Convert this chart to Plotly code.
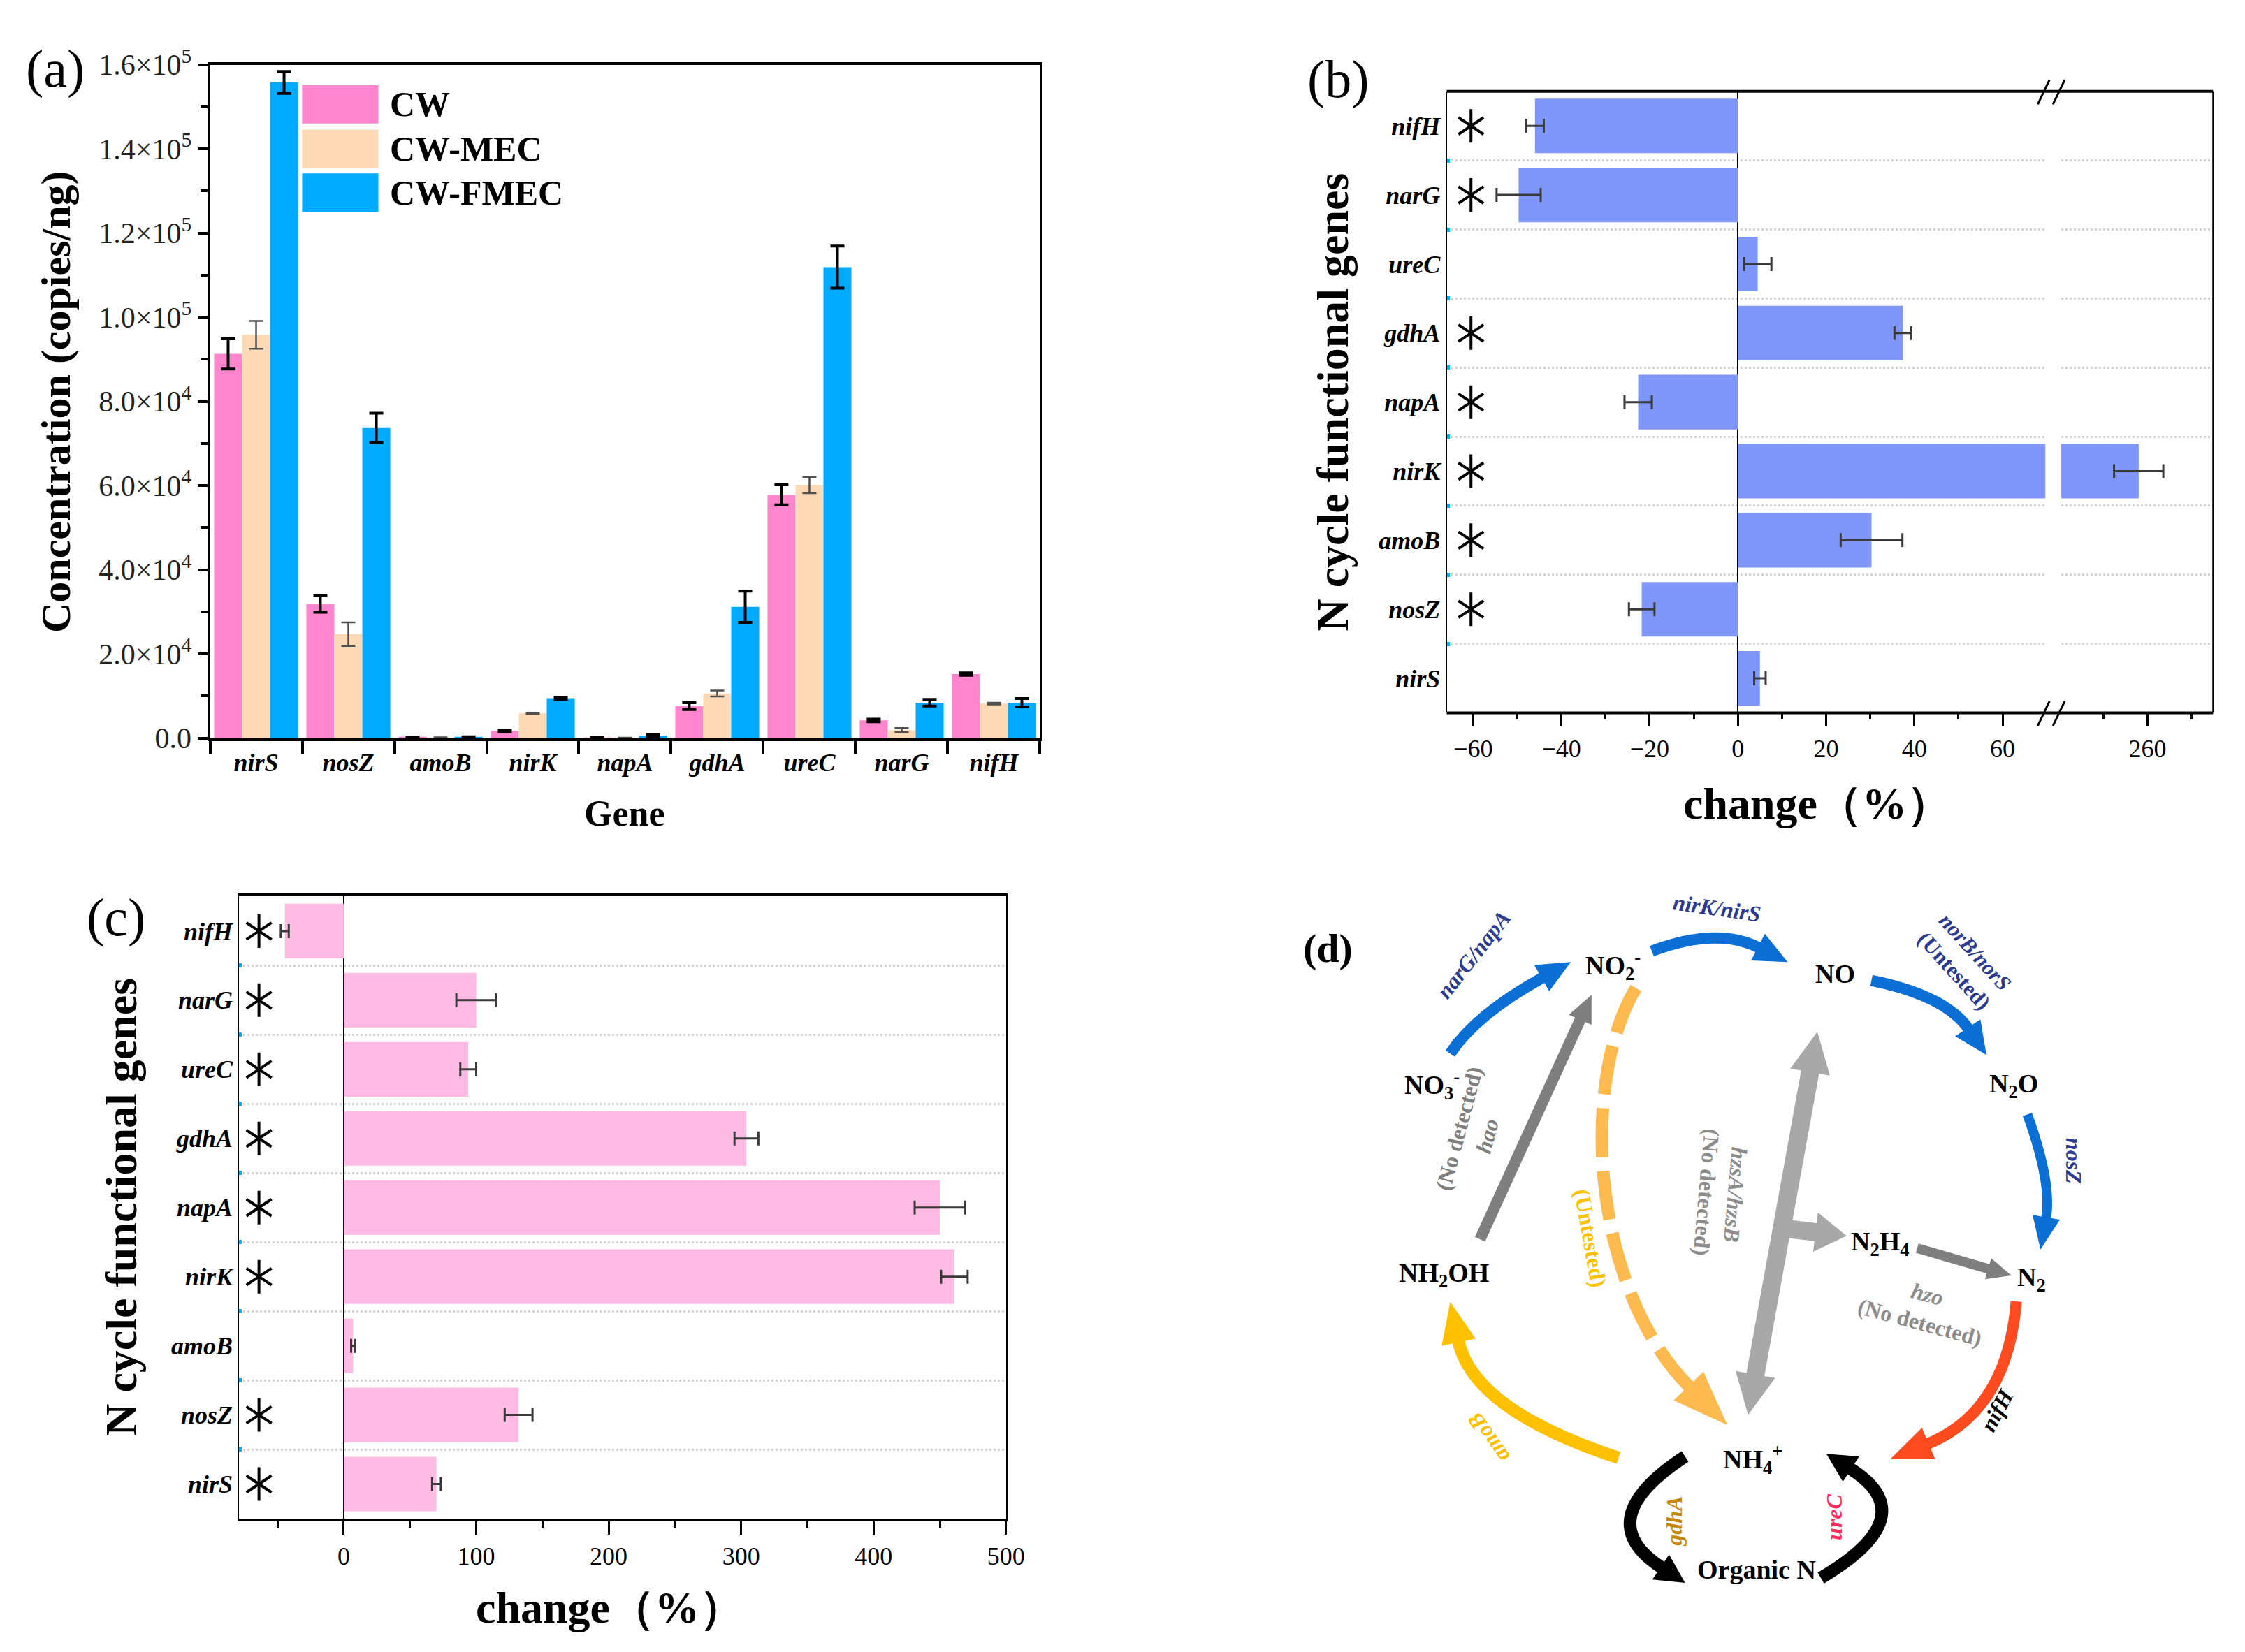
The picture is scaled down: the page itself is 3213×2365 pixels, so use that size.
import math
import plotly.graph_objects as go

W, H = 3213, 2365
FONT = "Liberation Serif"

# ---------------- data ----------------
genes = ["nirS", "nosZ", "amoB", "nirK", "napA", "gdhA", "ureC", "narG", "nifH"]
groups = ["CW", "CW-MEC", "CW-FMEC"]

cw_conc = [91300, 31900, 200, 1700, 100, 7600, 57800, 4200, 15200]
cw_err = [3600, 2000, 60, 200, 40, 800, 2400, 300, 300]
mec_conc = [95800, 24700, 150, 5900, 60, 10600, 60100, 1900, 8200]
mec_err = [3300, 2800, 50, 150, 30, 700, 1900, 500, 200]
fmec_conc = [155800, 73700, 250, 9500, 600, 31200, 111900, 8400, 8400]
fmec_err = [2600, 3500, 80, 250, 300, 3700, 5000, 800, 1000]

ytick_vals_a = [0, 20000, 40000, 60000, 80000, 100000, 120000, 140000, 160000]
ytick_text_a = ["0.0", "2.0×10<sup>4</sup>", "4.0×10<sup>4</sup>", "6.0×10<sup>4</sup>",
                "8.0×10<sup>4</sup>", "1.0×10<sup>5</sup>", "1.2×10<sup>5</sup>",
                "1.4×10<sup>5</sup>", "1.6×10<sup>5</sup>"]

change_b = [5.0, -21.8, 30.3, 258.0, -22.6, 37.4, 4.5, -49.7, -46.0]
err_b = [1.3, 2.9, 7.0, 5.6, 3.1, 1.9, 3.1, 5.0, 2.0]
sig_b = [False, True, True, True, True, True, False, True, True]
xtick_b_right = [260]

change_c = [70, 132, 7, 461, 450, 304, 94, 100, -44.5]
err_c = [3.3, 10.5, 1.4, 10, 19, 9, 6, 15, 3]
sig_c = [True, True, False, True, True, True, True, True, True]

COL_CW = "#FF85CF"
COL_MEC = "#FDD9B5"
COL_FMEC = "#00AAFF"
COL_B = "#7F97FA"
COL_C = "#FFBBE3"


def pxp(x, y):
    return x / W, 1 - y / H


fig = go.Figure()

# ---------------- panel (a) ----------------
series_a = [
    ("CW", cw_conc, cw_err, COL_CW, "black", 4),
    ("CW-MEC", mec_conc, mec_err, COL_MEC, "#505050", 2.5),
    ("CW-FMEC", fmec_conc, fmec_err, COL_FMEC, "black", 4),
]
for name, vals, errs, col, ecol, eth in series_a:
    fig.add_trace(go.Bar(
        x=genes, y=vals, name=name, marker=dict(color=col, line=dict(width=0)),
        error_y=dict(type="data", array=errs, color=ecol, thickness=eth, width=10),
        xaxis="x", yaxis="y", showlegend=False))

# ---------------- panel (b) ----------------
for xa in ["x2", "x3"]:
    fig.add_trace(go.Bar(
        y=genes, x=change_b, orientation="h", width=0.79, name="change",
        marker=dict(color=COL_B, line=dict(width=0)),
        error_x=dict(type="data", array=err_b, color="#3a3a3a", thickness=3, width=10),
        xaxis=xa, yaxis="y2", showlegend=False))

# ---------------- panel (c) ----------------
fig.add_trace(go.Bar(
    y=genes, x=change_c, orientation="h", width=0.79, name="change",
    marker=dict(color=COL_C, line=dict(width=0)),
    error_x=dict(type="data", array=err_c, color="#3a3a3a", thickness=3, width=10),
    xaxis="x4", yaxis="y4", showlegend=False))

# significance asterisks (six-armed, built from two marker symbols)
for sig, xpos, xa, ya in [(sig_b, -60.5, "x2", "y2"), (sig_c, -64, "x4", "y4")]:
    ys = [g for g, s in zip(genes, sig) if s]
    for sym in ["y-up-open", "y-down-open"]:
        fig.add_trace(go.Scatter(
            x=[xpos] * len(ys), y=ys, mode="markers", xaxis=xa, yaxis=ya,
            marker=dict(symbol=sym, size=30, color="black", line=dict(color="black", width=4)),
            cliponaxis=False, hoverinfo="skip", showlegend=False))

annotations = []
shapes = []


def ann(x, y, text, size, color="black", angle=0, family=FONT, **kw):
    px_, py_ = pxp(x, y)
    d = dict(x=px_, y=py_, xref="paper", yref="paper", text=text, showarrow=False,
             textangle=angle, xanchor="center", yanchor="middle",
             font=dict(family=family, size=size, color=color))
    d.update(kw)
    annotations.append(d)


def line(p0, p1, width, color="black"):
    a = pxp(*p0)
    b = pxp(*p1)
    shapes.append(dict(type="line", xref="paper", yref="paper", x0=a[0], y0=a[1], x1=b[0], y1=b[1],
                       line=dict(color=color, width=width)))


# panel labels and axis titles
ann(72, 63, "(a)", 76)
ann(1924, 78, "(b)", 76)
ann(159, 1306, "(c)", 76)
ann(1909, 1351, "<b>(d)</b>", 58)

ann(72, 550, "<b>Concentration (copies/ng)</b>", 60, angle=-90)
ann(894, 1153, "<b>Gene</b>", 52)
ann(1916, 551, "<b>N cycle functional genes</b>", 64, angle=-90)
ann(2615, 1139, "<b>change（%）</b>", 64)
ann(167, 1730, "<b>N cycle functional genes</b>", 64, angle=-90)
ann(872, 2316, "<b>change（%）</b>", 64)

# manual legend for (a)
leg_rows = [(115, COL_CW), (180, COL_MEC), (244, COL_FMEC)]
for (yc, col), name in zip(leg_rows, groups):
    a = pxp(428, yc - 28)
    b = pxp(538, yc + 28)
    shapes.append(dict(type="rect", xref="paper", yref="paper", x0=a[0], y0=a[1], x1=b[0], y1=b[1],
                       fillcolor=col, line=dict(width=0)))
    px_, py_ = pxp(553, yc)
    annotations.append(dict(x=px_, y=py_, xref="paper", yref="paper", text="<b>" + name + "</b>",
                            showarrow=False, xanchor="left", yanchor="middle",
                            font=dict(family=FONT, size=50, color="black")))

# frame of (b) with axis break
line((2080, 96), (3186, 96), 4)
line((2080, 1006), (3186, 1006), 4)
line((3186, 96), (3186, 1006), 2)
for yb in [(115, 79), (1025, 989)]:
    line((2933, yb[0]), (2950, yb[1]), 3)
    line((2955, yb[0]), (2972, yb[1]), 3)

# ---------------- panel (d): N-cycle schematic ----------------
def P(pt):
    x, y = pxp(*pt)
    return f"{x:.5f},{y:.5f}"


def head(tip, frm, hl, hw, color):
    dx, dy = tip[0] - frm[0], tip[1] - frm[1]
    L = math.hypot(dx, dy)
    ux, uy = dx / L, dy / L
    bx, by = tip[0] - ux * hl, tip[1] - uy * hl
    nx, ny = -uy, ux
    a = (bx + nx * hw / 2, by + ny * hw / 2)
    b = (bx - nx * hw / 2, by - ny * hw / 2)
    shapes.append(dict(type="path", xref="paper", yref="paper",
                       path=f"M{P(tip)} L{P(a)} L{P(b)} Z",
                       fillcolor=color, line=dict(width=0)))
    return (bx + ux * 2, by + uy * 2)


def curve(p0, pc, p1, color, lw, hl, hw, dash=None, both=False, pc2=None):
    if pc is None:
        pc = ((p0[0] + p1[0]) / 2, (p0[1] + p1[1]) / 2)
    start = p0
    shapes.append(dict(type="path", xref="paper", yref="paper", path="M0,0", line=dict(width=0)))
    idx = len(shapes) - 1
    last_ctrl = pc2 if pc2 is not None else pc
    end = head(p1, last_ctrl, hl, hw, color)
    if both:
        start = head(p0, pc, hl, hw, color)
    if pc2 is None:
        path = f"M{P(start)} Q{P(pc)} {P(end)}"
    else:
        path = f"M{P(start)} C{P(pc)} {P(pc2)} {P(end)}"
    shapes[idx] = dict(type="path", xref="paper", yref="paper", path=path,
                       line=dict(color=color, width=lw, dash=dash))


BLUE = "#0B6FD6"
LBLUE = "#2B3A8F"
GDARK = "#7F7F7F"
GLIGHT = "#A8A8A8"
ORANGE = "#FFBA4F"
YELLOW = "#FFC000"
RED = "#FF4B1F"

curve((2085, 1505), (2122, 1448), (2259, 1371), BLUE, 16, 48, 44)
curve((2376, 1355), (2470, 1319), (2572, 1371), BLUE, 16, 48, 44)
curve((2693, 1398), (2800, 1420), (2859, 1507), BLUE, 16, 48, 44)
curve((2918, 1594), (2954, 1695), (2937, 1792), BLUE, 14, 48, 40)
curve((2128, 1777), None, (2289, 1419), GDARK, 16, 40, 36)
curve((2353, 1409), (2270, 1550), (2485, 2049), ORANGE, 18, 80, 60, dash="70px,20px",
      pc2=(2290, 1850))
curve((2615, 1473), None, (2515, 2034), GLIGHT, 26, 60, 58, both=True)
curve((2575, 1762), None, (2657, 1772), GLIGHT, 26, 45, 58)
curve((2759, 1790), None, (2895, 1830), GDARK, 14, 35, 32)
curve((2328, 2097), (2118, 2027), (2085, 1869), YELLOW, 18, 60, 50)
curve((2902, 1868), (2889, 2029), (2720, 2099), RED, 16, 60, 50)
curve((2424, 2095), (2284, 2188), (2424, 2280), "black", 18, 42, 44)
curve((2620, 2273), (2772, 2182), (2628, 2091), "black", 18, 42, 44)

CH = 38
ann(2320, 1376, "<b>NO<sub>2</sub><sup>-</sup></b>", CH)
ann(2641, 1388, "<b>NO</b>", CH)
ann(2898, 1552, "<b>N<sub>2</sub>O</b>", CH)
ann(2059, 1551, "<b>NO<sub>3</sub><sup>-</sup></b>", CH)
ann(2706, 1783, "<b>N<sub>2</sub>H<sub>4</sub></b>", CH)
ann(2924, 1835, "<b>N<sub>2</sub></b>", CH)
ann(2076, 1829, "<b>NH<sub>2</sub>OH</b>", CH)
ann(2522, 2099, "<b>NH<sub>4</sub><sup>+</sup></b>", CH)
ann(2527, 2261, "<b>Organic N</b>", CH)

ann(2470, 1292, "<b><i>nirK/nirS</i></b>", 32, LBLUE, angle=8)
ann(2118, 1360, "<b><i>narG/napA</i></b>", 32, LBLUE, angle=-52)
ann(2828, 1370, "<b><i>norB/norS</i><br>(Untested)</b>", 31, LBLUE, angle=48)
ann(2985, 1662, "<b><i>nosZ</i></b>", 32, LBLUE, angle=90)
ann(2118, 1620, "<b>(No detected)<br><i>hao</i></b>", 32, GDARK, angle=-75)
ann(2287, 1775, "<b>(Untested)</b>", 32, YELLOW, angle=80)
ann(2476, 1710, "<b><i>hzsA/hzsB</i><br>(No detected)</b>", 32, "#8C8C8C", angle=95)
ann(2768, 1878, "<b><i>hzo</i><br>(No detected)</b>", 32, "#8C8C8C", angle=15)
ann(2140, 2068, "<b><i>amoB</i></b>", 32, YELLOW, angle=-125)
ann(2874, 2027, "<b><i>nifH</i></b>", 32, "black", angle=-62)
ann(2408, 2190, "<b><i>gdhA</i></b>", 32, "#C7870C", angle=-90)
ann(2639, 2184, "<b><i>ureC</i></b>", 32, "#FF2A5F", angle=-90)

# ---------------- layout ----------------
gene_font = dict(family=FONT, size=36, style="italic", weight="bold", color="black")
num_font = dict(family=FONT, size=36, color="black")

fig.update_layout(
    width=W, height=H, margin=dict(l=0, r=0, t=0, b=0),
    paper_bgcolor="white", plot_bgcolor="rgba(0,0,0,0)",
    barmode="group", bargap=0.09, bargroupgap=0,
    font=dict(family=FONT, color="black"),
    showlegend=False,
    xaxis=dict(domain=[295 / W, 1493 / W], anchor="y", type="category",
               categoryorder="array", categoryarray=genes, range=[-0.5, 8.5],
               tickson="boundaries", ticks="outside", ticklen=19, tickwidth=4, tickcolor="black",
               showline=True, linewidth=4, linecolor="black", mirror=True, showgrid=False,
               tickfont=gene_font),
    yaxis=dict(domain=[1 - 1043 / H, 1 - 57 / H], anchor="x", range=[0, 160000],
               tickmode="array", tickvals=ytick_vals_a, ticktext=ytick_text_a,
               ticks="outside", ticklen=14, tickwidth=4, tickcolor="black",
               minor=dict(tickmode="linear", tick0=0, dtick=10000, ticks="outside", ticklen=10,
                          tickwidth=4, tickcolor="black", showgrid=False),
               showline=True, linewidth=4, linecolor="black", mirror=True,
               showgrid=False, zeroline=False, tickfont=dict(family=FONT, size=42, color="#222")),
    xaxis2=dict(domain=[2080 / W, 2944 / W], anchor="y2", range=[-66, 69.7],
                tickmode="linear", tick0=0, dtick=20, ticks="outside", ticklen=19, tickwidth=3,
                tickcolor="black",
                minor=dict(tickmode="linear", tick0=0, dtick=10, ticks="outside", ticklen=9,
                           tickwidth=3, tickcolor="black", showgrid=False),
                showline=False, zeroline=True, zerolinecolor="black", zerolinewidth=2,
                showgrid=False, tickfont=num_font),
    xaxis3=dict(domain=[2967 / W, 3186 / W], anchor="y2", range=[240.4, 274.9],
                tickmode="array", tickvals=xtick_b_right, ticks="outside", ticklen=19, tickwidth=3,
                tickcolor="black",
                minor=dict(tickmode="linear", tick0=0, dtick=10, ticks="outside", ticklen=9,
                           tickwidth=3, tickcolor="black", showgrid=False),
                showline=False, zeroline=False, showgrid=False, tickfont=num_font),
    yaxis2=dict(domain=[1 - 1006 / H, 1 - 96 / H], anchor="x2", type="category",
                categoryorder="array", categoryarray=genes, range=[-0.5, 8.5],
                tickson="boundaries", ticks="inside", ticklen=4, tickwidth=6, tickcolor="#00B0F0",
                showgrid=True, griddash="dot", gridcolor="#d4d4d4", gridwidth=3,
                showline=True, linewidth=2, linecolor="black", zeroline=False,
                tickfont=gene_font),
    xaxis4=dict(domain=[337 / W, 1444 / W], anchor="y4", range=[-79, 500],
                tickmode="linear", tick0=0, dtick=100, ticks="outside", ticklen=19, tickwidth=3,
                tickcolor="black",
                minor=dict(tickmode="linear", tick0=0, dtick=50, ticks="outside", ticklen=9,
                           tickwidth=3, tickcolor="black", showgrid=False),
                showline=True, linewidth=4, linecolor="black", mirror=True,
                zeroline=True, zerolinecolor="black", zerolinewidth=2,
                showgrid=False, tickfont=num_font),
    yaxis4=dict(domain=[1 - 2186 / H, 1 - 1275 / H], anchor="x4", type="category",
                categoryorder="array", categoryarray=genes, range=[-0.5, 8.5],
                tickson="boundaries", ticks="inside", ticklen=4, tickwidth=6, tickcolor="#00B0F0",
                showgrid=True, griddash="dot", gridcolor="#d4d4d4", gridwidth=3,
                showline=True, linewidth=2, linecolor="black", mirror=True, zeroline=False,
                tickfont=gene_font),
    annotations=annotations,
    shapes=shapes,
)

fig.write_html("out.html")
